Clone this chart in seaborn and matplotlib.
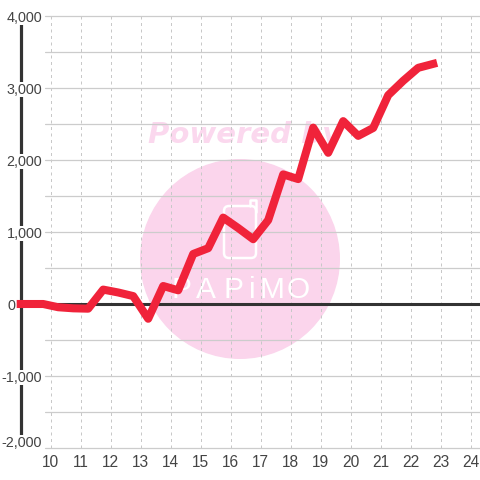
import matplotlib
matplotlib.use('Agg')
import matplotlib.pyplot as plt
from matplotlib.patches import Circle, FancyBboxPatch
from matplotlib.transforms import ScaledTranslation
import seaborn as sns
import pandas as pd

# values
hours = [9.0, 9.25, 9.75, 10.25, 10.75, 11.25, 11.75, 12.25, 12.75, 13.25, 13.75, 14.25,
         14.75, 15.25, 15.75, 16.25, 16.75, 17.25, 17.75, 18.25, 18.75, 19.25, 19.75,
         20.25, 20.75, 21.25, 21.75, 22.25, 22.75]
profit = [0, 0, 0, -45, -60, -65, 200, 160, 110, -205, 250, 190,
          695, 775, 1200, 1055, 900, 1165, 1800, 1735, 2450, 2100, 2540,
          2335, 2445, 2900, 3100, 3280, 3335]
x_ticks = list(range(10, 25))
y_ticks = [-2000, -1000, 0, 1000, 2000, 3000, 4000]
y_grid = [-1500, -500, 500, 1500, 2500, 3500]

sns.set_theme(style='white')
plt.rcParams['font.family'] = ['Liberation Sans', 'DejaVu Sans']

fig = plt.figure(figsize=(4.8, 4.8), dpi=100)

# watermark layer in pixel coordinates
bg = fig.add_axes([0, 0, 1, 1])
bg.set_xlim(0, 480)
bg.set_ylim(480, 0)
bg.axis('off')
bg.add_patch(Circle((240, 259), 100, fc='#fbd5ec', ec='none'))
bg.text(148, 135, 'Powered by', color='#fbd8ee', fontsize=21, family='DejaVu Sans',
        weight='bold', style='italic', va='center', ha='left')
bg.add_patch(FancyBboxPatch((224, 206), 32, 52, boxstyle='round,pad=0,rounding_size=5',
                            fc='none', ec='white', lw=1.8))
bg.plot([250, 250, 256, 256], [206, 200, 200, 212], color='white', lw=1.8, solid_joinstyle='round')
for letter, pos in zip('PAPiMO', [181, 206, 234, 252, 272, 298]):
    bg.text(pos, 290, letter, color='white', fontsize=21.5, family='Liberation Sans',
            va='center', ha='center')

# main chart, spans the plot area only
ax = fig.add_axes([45 / 480, (480 - 448) / 480, 435 / 480, (448 - 16) / 480])
ax.patch.set_alpha(0)
ax.set_axisbelow('line')
ax.set_xlim(10 - 5.7 / 30, 10 + (480 - 50.7) / 30)
ax.set_ylim(-2000, 4000)
sns.despine(ax=ax, left=True, bottom=True)

ax.set_xticks(x_ticks)
ax.set_yticks(y_ticks)
ax.set_yticks(y_grid, minor=True)
ax.set_yticklabels([f'{v:,}' for v in y_ticks])
ax.tick_params(axis='both', which='both', length=0, labelcolor='#444444')
ax.tick_params(axis='x', labelsize=11.2, pad=5)
ax.tick_params(axis='y', labelsize=10.4, pad=2)
ax.grid(True, axis='y', which='both', color='#cccccc', lw=0.9)
ax.grid(True, axis='x', color='#c8c8c8', lw=0.72, ls=(0, (3, 3.5)))
for line in ax.get_ygridlines():
    line.set_clip_on(False)

for lab in ax.get_yticklabels():
    lab.set_bbox(dict(fc='white', ec='none', pad=0.5))
    if lab.get_text() == '0':
        lab.set_x(-27 / 435)
    if lab.get_text() == '-2,000':
        # bottom label sits a little above its gridline
        lab.set_transform(lab.get_transform() + ScaledTranslation(0, 6.5 / 100, fig.dpi_scale_trans))

# y axis bar sits left of the plot area, labels knock holes in it
ax.plot([9, 9], [-2000, 4000], color='#333333', lw=2.3, clip_on=False, zorder=1, solid_capstyle='butt')
ax.axhline(0, color='#333333', lw=2.2, zorder=1.8)

df = pd.DataFrame({'hour': hours, 'profit': profit})
sns.lineplot(data=df, x='hour', y='profit', ax=ax, color='#f0233a', lw=5.8, errorbar=None,
             clip_on=False, solid_capstyle='projecting', solid_joinstyle='round', zorder=2)
ax.set_xlabel('')
ax.set_ylabel('')

fig.savefig('out.png', dpi=100)
